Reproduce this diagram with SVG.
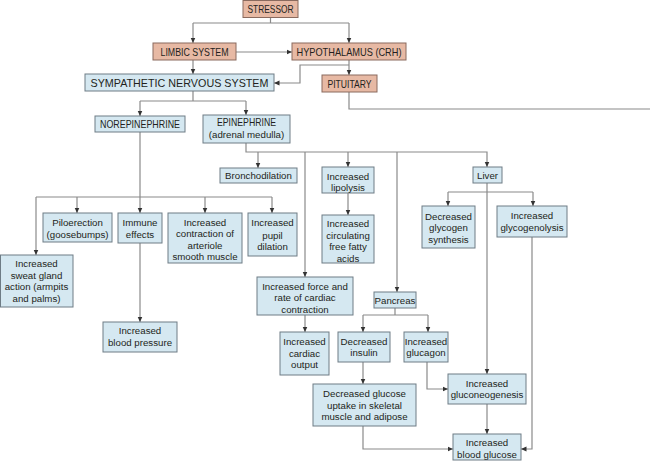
<svg xmlns="http://www.w3.org/2000/svg" width="650" height="465" viewBox="0 0 650 465">
<style>
.b rect{fill:#d5e8f1;stroke:#6e7c85;stroke-width:1}
.s rect{fill:#e7b9a4;stroke:#8a6a5e;stroke-width:1}
text{font-family:"Liberation Sans",Arial,sans-serif;font-size:9.7px;fill:#231f20;text-anchor:middle}
.u{font-size:11px}
#connectors path{fill:none;stroke:#8a8a8a;stroke-width:1.2}
</style>
<defs>
<marker id="ah" markerUnits="userSpaceOnUse" markerWidth="6" markerHeight="6" refX="5.5" refY="3" orient="auto">
<path d="M0,0.5 L5.5,3 L0,5.5 z" fill="#333"/>
</marker>
</defs>
<g id="connectors">
<path d="M270.5,17 V23 M193,23 H349"/>
<path d="M193,23 V43" marker-end="url(#ah)"/>
<path d="M349,23 V43" marker-end="url(#ah)"/>
<path d="M236,52 H292" marker-end="url(#ah)"/>
<path d="M193,60 V74" marker-end="url(#ah)"/>
<path d="M349,60 V75" marker-end="url(#ah)"/>
<path d="M349,65 H300 V83 H274" marker-end="url(#ah)"/>
<path d="M349,92 V109 H650"/>
<path d="M193,91 V101 M140,101 H246"/>
<path d="M140,101 V116" marker-end="url(#ah)"/>
<path d="M246,101 V115" marker-end="url(#ah)"/>
<path d="M140,132 V213" marker-end="url(#ah)"/>
<path d="M36,197 H272"/>
<path d="M36,197 V255" marker-end="url(#ah)"/>
<path d="M77,197 V213" marker-end="url(#ah)"/>
<path d="M205,197 V213" marker-end="url(#ah)"/>
<path d="M272,197 V213" marker-end="url(#ah)"/>
<path d="M140,243 V322" marker-end="url(#ah)"/>
<path d="M246,143 V152 H487 V167" marker-end="url(#ah)"/>
<path d="M258,152 V168" marker-end="url(#ah)"/>
<path d="M305,152 V277" marker-end="url(#ah)"/>
<path d="M348,152 V167" marker-end="url(#ah)"/>
<path d="M397,152 V292" marker-end="url(#ah)"/>
<path d="M348,193 V215" marker-end="url(#ah)"/>
<path d="M305,315 V332" marker-end="url(#ah)"/>
<path d="M395,308 V315 M363,315 H428"/>
<path d="M363,315 V332" marker-end="url(#ah)"/>
<path d="M428,315 V332" marker-end="url(#ah)"/>
<path d="M487,183 V374" marker-end="url(#ah)"/>
<path d="M448,192 H533"/>
<path d="M448,192 V206" marker-end="url(#ah)"/>
<path d="M533,192 V206" marker-end="url(#ah)"/>
<path d="M532,237 V449 H521" marker-end="url(#ah)"/>
<path d="M363,362 V384" marker-end="url(#ah)"/>
<path d="M427,362 V389 H448" marker-end="url(#ah)"/>
<path d="M487,404 V434" marker-end="url(#ah)"/>
<path d="M363,426 V449 H453" marker-end="url(#ah)"/>
</g>
<g id="stressor" class="s"><rect x="243" y="0.5" width="55" height="17"/><text class="u" x="270.5" y="13" textLength="46" lengthAdjust="spacingAndGlyphs">STRESSOR</text></g>
<g id="limbic" class="s"><rect x="153" y="43" width="83" height="17"/><text class="u" x="194.5" y="55.5" textLength="68" lengthAdjust="spacingAndGlyphs">LIMBIC SYSTEM</text></g>
<g id="hypothalamus" class="s"><rect x="292" y="43" width="114" height="17"/><text class="u" x="349" y="55.5" textLength="105" lengthAdjust="spacingAndGlyphs">HYPOTHALAMUS (CRH)</text></g>
<g id="sns" class="b"><rect x="85" y="74" width="189" height="17"/><text class="u" x="179.5" y="86.5" textLength="178" lengthAdjust="spacingAndGlyphs">SYMPATHETIC NERVOUS SYSTEM</text></g>
<g id="pituitary" class="s"><rect x="322" y="75" width="55" height="17"/><text class="u" x="349.5" y="87.5" textLength="44" lengthAdjust="spacingAndGlyphs">PITUITARY</text></g>
<g id="norepinephrine" class="b"><rect x="95" y="116" width="90" height="16"/><text class="u" x="140" y="128" textLength="80" lengthAdjust="spacingAndGlyphs">NOREPINEPHRINE</text></g>
<g id="epinephrine" class="b"><rect x="203" y="115" width="87" height="28"/><text class="u" x="246.5" y="126" textLength="59" lengthAdjust="spacingAndGlyphs">EPINEPHRINE</text><text x="246.5" y="138">(adrenal medulla)</text></g>
<g id="bronchodilation" class="b"><rect x="220" y="168" width="77" height="15"/><text x="258.5" y="179">Bronchodilation</text></g>
<g id="lipolysis" class="b"><rect x="322" y="167" width="52" height="26"/><text x="348" y="179.5">Increased</text><text x="348" y="191">lipolysis</text></g>
<g id="ffa" class="b"><rect x="322" y="215" width="52" height="48"/><text x="348" y="227">Increased</text><text x="348" y="238.5">circulating</text><text x="348" y="250">free fatty</text><text x="348" y="261.5">acids</text></g>
<g id="liver" class="b"><rect x="473" y="167" width="29" height="16"/><text x="487.5" y="178.5">Liver</text></g>
<g id="glycogen-synthesis" class="b"><rect x="422" y="206" width="53" height="42"/><text x="448.5" y="219.5">Decreased</text><text x="448.5" y="231">glycogen</text><text x="448.5" y="242.5">synthesis</text></g>
<g id="glycogenolysis" class="b"><rect x="497" y="206" width="70" height="31"/><text x="532" y="219">Increased</text><text x="532" y="230.5">glycogenolysis</text></g>
<g id="piloerection" class="b"><rect x="43" y="213" width="69" height="29"/><text x="77.5" y="225.5">Piloerection</text><text x="77.5" y="237.5">(goosebumps)</text></g>
<g id="immune" class="b"><rect x="118" y="213" width="44" height="30"/><text x="140" y="225.5">Immune</text><text x="140" y="237.5">effects</text></g>
<g id="arteriole" class="b"><rect x="168" y="213" width="74" height="50"/><text x="205" y="225.5">Increased</text><text x="205" y="237">contraction of</text><text x="205" y="248.5">arteriole</text><text x="205" y="260">smooth muscle</text></g>
<g id="pupil" class="b"><rect x="248" y="213" width="49" height="43"/><text x="272.5" y="226">Increased</text><text x="272.5" y="238.5">pupil</text><text x="272.5" y="250">dilation</text></g>
<g id="sweat" class="b"><rect x="0.5" y="255" width="72.5" height="52"/><text x="36.5" y="267">Increased</text><text x="36.5" y="278.5">sweat gland</text><text x="36.5" y="290">action (armpits</text><text x="36.5" y="301.5">and palms)</text></g>
<g id="blood-pressure" class="b"><rect x="103" y="322" width="74" height="30"/><text x="140" y="334">Increased</text><text x="140" y="346">blood pressure</text></g>
<g id="cardiac-contraction" class="b"><rect x="257" y="277" width="96" height="38"/><text x="305" y="289.5">Increased force and</text><text x="305" y="301">rate of cardiac</text><text x="305" y="312.5">contraction</text></g>
<g id="cardiac-output" class="b"><rect x="280" y="332" width="49" height="43"/><text x="304.5" y="344.5">Increased</text><text x="304.5" y="356.5">cardiac</text><text x="304.5" y="368">output</text></g>
<g id="pancreas" class="b"><rect x="374" y="292" width="42" height="16"/><text x="395" y="303.5">Pancreas</text></g>
<g id="insulin" class="b"><rect x="338" y="332" width="52" height="30"/><text x="364" y="344.5">Decreased</text><text x="364" y="356">insulin</text></g>
<g id="glucagon" class="b"><rect x="404" y="332" width="44" height="30"/><text x="426" y="344.5">Increased</text><text x="426" y="356">glucagon</text></g>
<g id="glucose-uptake" class="b"><rect x="313" y="384" width="103" height="42"/><text x="364.5" y="396.5">Decreased glucose</text><text x="364.5" y="408.5">uptake in skeletal</text><text x="364.5" y="420">muscle and adipose</text></g>
<g id="gluconeogenesis" class="b"><rect x="448" y="374" width="78" height="30"/><text x="487" y="386.5">Increased</text><text x="487" y="398">gluconeogenesis</text></g>
<g id="blood-glucose" class="b"><rect x="453" y="434" width="68" height="26"/><text x="487" y="446">Increased</text><text x="487" y="458">blood glucose</text></g>
</svg>
